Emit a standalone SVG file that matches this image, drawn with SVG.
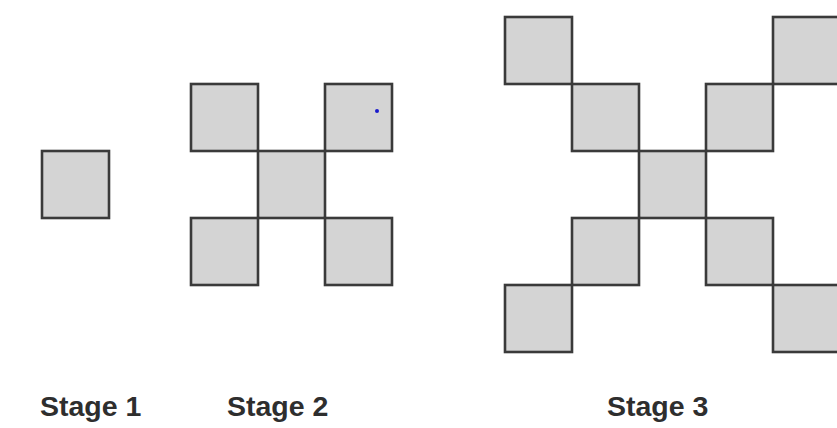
<svg xmlns="http://www.w3.org/2000/svg" width="837" height="428" viewBox="0 0 837 428">
  <style>
    .sq { fill: #d4d4d4; stroke: #3a3a3a; stroke-width: 2.6; stroke-linejoin: miter; }
    .label { font-family: "Liberation Sans", Arial, sans-serif; font-weight: bold; font-size: 28.5px; fill: #2e2e2e; }
  </style>
  <defs>
    <rect id="tile" class="sq" width="67" height="67"/>
  </defs>
  <rect width="837" height="428" fill="#ffffff"/>

  <!-- Stage 1: a single tile -->
  <g id="stage1">
    <use href="#tile" x="42" y="151"/>
  </g>

  <!-- Stage 2: centre tile with one tile on each diagonal -->
  <g id="stage2">
    <use href="#tile" x="191" y="84"/>
    <use href="#tile" x="325" y="84"/>
    <use href="#tile" x="258" y="151"/>
    <use href="#tile" x="191" y="218"/>
    <use href="#tile" x="325" y="218"/>
    <circle cx="377" cy="111" r="2" fill="#1a1acc"/>
  </g>

  <!-- Stage 3: centre tile with two tiles on each diagonal -->
  <g id="stage3">
    <use href="#tile" x="505" y="17"/>
    <use href="#tile" x="773" y="17"/>
    <use href="#tile" x="572" y="84"/>
    <use href="#tile" x="706" y="84"/>
    <use href="#tile" x="639" y="151"/>
    <use href="#tile" x="572" y="218"/>
    <use href="#tile" x="706" y="218"/>
    <use href="#tile" x="505" y="285"/>
    <use href="#tile" x="773" y="285"/>
  </g>

  <g id="labels">
    <text class="label" x="40" y="416">Stage 1</text>
    <text class="label" x="227" y="416">Stage 2</text>
    <text class="label" x="607" y="416">Stage 3</text>
  </g>
</svg>
